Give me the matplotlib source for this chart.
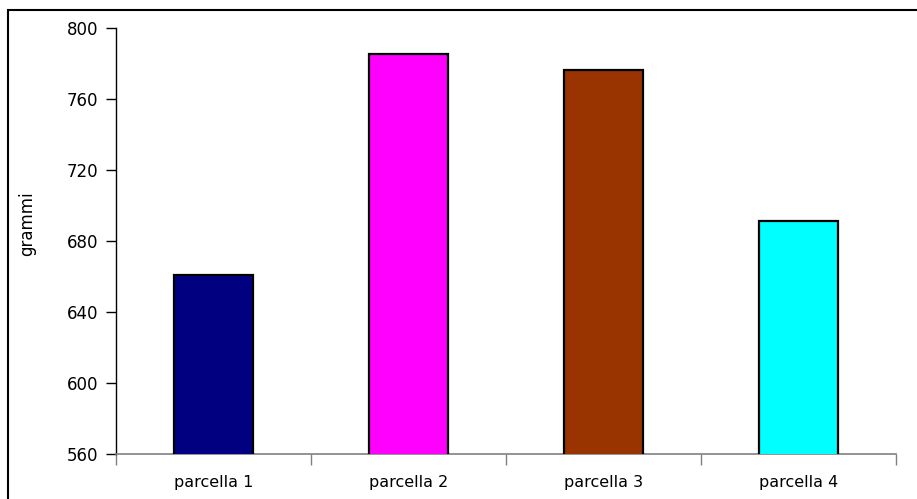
import matplotlib
matplotlib.use("Agg")
import matplotlib.pyplot as plt
from matplotlib.patches import Rectangle

# grams per plot
categories = ["parcella 1", "parcella 2", "parcella 3", "parcella 4"]
grammi = [661, 785, 776, 691]
colors = ["#000080", "#FF00FF", "#993300", "#00FFFF"]

W, H = 917, 499
fig = plt.figure(figsize=(W / 100, H / 100), dpi=100)
ax = fig.add_axes([116 / W, 1 - 454.3 / H, 780 / W, 426.6 / H])

x = range(len(categories))
ax.bar(x, grammi, width=0.41, color=colors, edgecolor="black", linewidth=1.6, zorder=3)

ax.set_ylim(560, 800)
ax.set_yticks(range(560, 801, 40))
ax.set_xlim(-0.5, len(categories) - 0.5)

# labels centred on bars, tick marks between categories
ax.set_xticks(list(x))
ax.set_xticklabels(categories)
ax.set_xticks([i - 0.5 for i in range(len(categories) + 1)], minor=True)
ax.tick_params(axis="x", which="major", length=0, pad=15, labelsize=11.5)
ax.tick_params(axis="x", which="minor", length=8, width=1, color="#808080", direction="out")
ax.tick_params(axis="y", length=7, width=1, pad=6, labelsize=12, direction="out")

for s in ["top", "right"]:
    ax.spines[s].set_visible(False)
ax.spines["bottom"].set_color("#808080")
ax.spines["bottom"].set_linewidth(1.2)
ax.spines["left"].set_color("black")
ax.spines["left"].set_linewidth(1)

ax.set_ylabel("grammi", fontsize=12)
ax.yaxis.set_label_coords(-0.102, 0.54)

# border around the chart area (open at right and bottom edges)
fig.patches.append(Rectangle((8 / W, -0.02), 1.0, 1 - 10 / H + 0.02,
                             transform=fig.transFigure, fill=False,
                             edgecolor="black", linewidth=1.5))

fig.savefig("out.png", dpi=100)
